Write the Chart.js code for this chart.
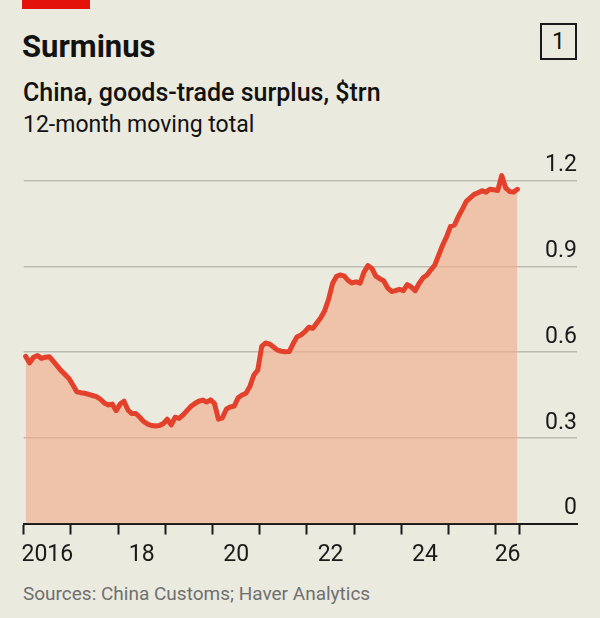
<!DOCTYPE html>
<html>
<head>
<meta charset="utf-8">
<script src="https://cdn.jsdelivr.net/npm/chart.js@4.4.1/dist/chart.umd.min.js"></script>
<style>
  html, body { margin: 0; padding: 0; }
  body {
    width: 600px; height: 618px; position: relative; overflow: hidden;
    background: #ebeadf; font-family: Roboto, sans-serif; color: #121212;
  }
  .redbar { position: absolute; left: 22px; top: 0; width: 68px; height: 9px; background: #e3120b; }
  .title { position: absolute; left: 22px; top: 31px; font-size: 31px; font-weight: 700; line-height: 1; }
  .sub1 { position: absolute; left: 23px; top: 80px; font-size: 25px; font-weight: 500; line-height: 1; }
  .sub2 { position: absolute; left: 23px; top: 113px; font-size: 23px; font-weight: 400; line-height: 1; }
  .num {
    position: absolute; left: 540px; top: 23px; width: 37px; height: 37px; box-sizing: border-box;
    border: 2px solid #1a1a1a; font-size: 23px; line-height: 33px; text-align: center;
  }
  .source { position: absolute; left: 23px; top: 584px; font-size: 19px; color: #707070; line-height: 1; }
  #chart { position: absolute; left: 0; top: 140px; }
</style>
</head>
<body>
<div class="redbar"></div>
<div class="title">Surminus</div>
<div class="num">1</div>
<div class="sub1">China, goods-trade surplus, $trn</div>
<div class="sub2">12-month moving total</div>
<canvas id="chart" width="600" height="440"></canvas>
<div class="source">Sources: China Customs; Haver Analytics</div>

<script>
// monthly values from Jan 2016, $trn
var startYear = 2016;
var surplus = [
  0.585, 0.562, 0.582, 0.588, 0.578, 0.582, 0.584, 0.568, 0.552, 0.535, 0.522, 0.508,
  0.485, 0.461, 0.458, 0.456, 0.452, 0.448, 0.444, 0.435, 0.422, 0.415, 0.418, 0.395,
  0.418, 0.428, 0.397, 0.385, 0.385, 0.372, 0.357, 0.348, 0.343, 0.341, 0.343, 0.350,
  0.365, 0.345, 0.372, 0.368, 0.380, 0.395, 0.410, 0.420, 0.428, 0.432, 0.425, 0.433,
  0.420, 0.365, 0.370, 0.400, 0.408, 0.411, 0.440, 0.450, 0.456, 0.480, 0.520, 0.537,
  0.620, 0.632, 0.628, 0.618, 0.607, 0.603, 0.601, 0.602, 0.630, 0.654, 0.660, 0.672,
  0.687, 0.683, 0.702, 0.720, 0.745, 0.785, 0.840, 0.865, 0.870, 0.866, 0.850, 0.842,
  0.846, 0.841, 0.880, 0.903, 0.893, 0.866, 0.857, 0.850, 0.825, 0.812, 0.815, 0.820,
  0.815, 0.836, 0.828, 0.815, 0.840, 0.860, 0.870, 0.888, 0.905, 0.940, 0.975, 1.004,
  1.040, 1.045, 1.075, 1.100, 1.128, 1.140, 1.152, 1.158, 1.165, 1.160, 1.170, 1.168,
  1.166, 1.218, 1.175, 1.162, 1.160, 1.170
];

// x axis: tick marks at year starts (plus end of data), labels centred in the year
var tickMarks = [2016, 2017, 2018, 2019, 2020, 2021, 2022, 2023, 2024, 2025, 2026, 2026.5];
var labelPos = [2016.5, 2018.5, 2020.5, 2022.5, 2024.5, 2026.25];
var labelText = ['2016', '18', '20', '22', '24', '26'];
var yTicks = [0, 0.3, 0.6, 0.9, 1.2];

var points = surplus.map(function(v, i) {
  return { x: startYear + (i + 0.5) / 12, y: v };
});

function labelIndex(v) {
  for (var i = 0; i < labelPos.length; i++) {
    if (Math.abs(labelPos[i] - v) < 0.001) return i;
  }
  return -1;
}

var tickFont = { family: 'Roboto', size: 23 };

var ctx = document.getElementById('chart').getContext('2d');
var chart = new Chart(ctx, {
  type: 'line',
  data: {
    datasets: [{
      data: points,
      borderColor: '#e3412b',
      borderWidth: 5,
      backgroundColor: 'rgba(242,171,136,0.62)',
      fill: 'origin',
      pointRadius: 0,
      tension: 0,
      clip: false,
      borderJoinStyle: 'round',
      borderCapStyle: 'round'
    }]
  },
  options: {
    responsive: false,
    animation: false,
    devicePixelRatio: 1,
    layout: { padding: { left: 23.7, right: 23, top: 40.7, bottom: 6.5 } },
    plugins: { legend: { display: false }, tooltip: { enabled: false } },
    scales: {
      x: {
        type: 'linear',
        min: 2016,
        max: 2027.72,
        afterFit: function(s) { s.height = 50; },
        afterBuildTicks: function(s) {
          s.ticks = tickMarks.concat(labelPos).map(function(v) { return { value: v }; });
        },
        grid: {
          drawOnChartArea: false,
          drawTicks: true,
          tickLength: 11,
          tickWidth: 2,
          tickColor: function(c) {
            return c.tick && labelIndex(c.tick.value) >= 0 ? 'rgba(0,0,0,0)' : '#1a1a1a';
          }
        },
        border: { display: true, color: '#1a1a1a', width: 2 },
        ticks: {
          autoSkip: false,
          maxRotation: 0,
          padding: 7,
          font: tickFont,
          color: '#1a1a1a',
          callback: function(v) {
            var i = labelIndex(v);
            return i >= 0 ? labelText[i] : '';
          }
        }
      },
      y: {
        position: 'right',
        min: 0,
        max: 1.2,
        afterFit: function(s) { s.width = 0; },
        afterBuildTicks: function(s) {
          s.ticks = yTicks.map(function(v) { return { value: v }; });
        },
        grid: { color: '#bdbcb3', lineWidth: 1.5, drawTicks: false },
        border: { display: false },
        ticks: {
          mirror: true,
          padding: 0,
          labelOffset: -15,
          font: tickFont,
          color: '#1a1a1a',
          callback: function(v) { return String(+v.toFixed(1)); }
        }
      }
    }
  }
});
</script>
</body>
</html>
